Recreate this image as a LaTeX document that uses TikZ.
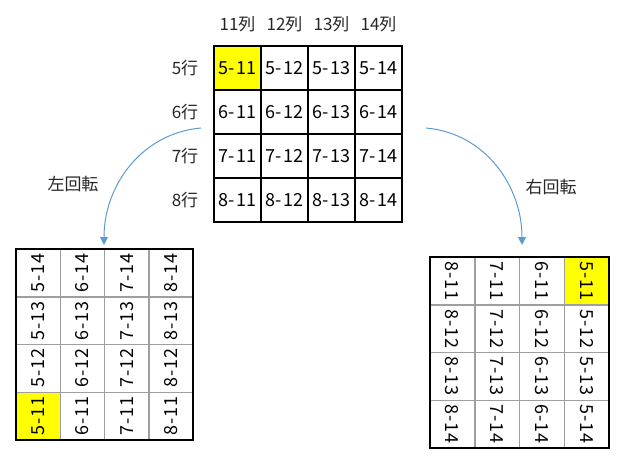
\documentclass[tikz,border=0pt]{standalone}
\usepackage{fontspec}
\setmainfont{Noto Sans CJK JP}
\usetikzlibrary{arrows.meta}
\definecolor{arrowblue}{RGB}{91,155,213}
\definecolor{cellyellow}{RGB}{255,255,0}
\begin{document}
\begin{tikzpicture}[x=1pt,y=-1pt,
  txt/.style={font=\fontsize{18}{18}\selectfont\addfontfeature{LetterSpace=5}, inner sep=0pt},
  topcell/.style={txt, draw=black, line width=1.2pt, minimum width=47pt, minimum height=44pt},
  leftcell/.style={txt, draw=gray!75, line width=1.5pt, rotate=90, minimum width=47.75pt, minimum height=44.25pt},
  rightcell/.style={txt, draw=gray!75, line width=1.5pt, rotate=-90, minimum width=47.75pt, minimum height=44.75pt},
  hl/.style={fill=cellyellow},
  rotarrow/.style={draw=arrowblue, line width=1pt, -{Triangle[width=8pt,length=8pt]}},
  lbl/.style={font=\fontsize{17}{17}\selectfont, inner sep=0pt, text=black!85}]
\useasboundingbox (0,0) rectangle (622,458);
% top grid
\foreach \r in {0,...,3}{
  \foreach \c in {0,...,3}{
    \pgfmathtruncatemacro{\rr}{5+\r}
    \pgfmathtruncatemacro{\cc}{11+\c}
    \ifnum\r=0 \ifnum\c=0
      \node[topcell, hl] (t\r\c) at ({237.5+47*\c},{68+44*\r}) {\rr-\cc};
    \else
      \node[topcell] (t\r\c) at ({237.5+47*\c},{68+44*\r}) {\rr-\cc};
    \fi\else
      \node[topcell] (t\r\c) at ({237.5+47*\c},{68+44*\r}) {\rr-\cc};
    \fi
  }
}
\foreach \c in {0,...,3}{
  \pgfmathtruncatemacro{\cc}{11+\c}
  \node[lbl] (h\c) at ({237.5+47*\c},24) {\cc 列};
}
\foreach \r in {0,...,3}{
  \pgfmathtruncatemacro{\rr}{5+\r}
  \node[lbl] (rl\r) at (185,{68+44*\r}) {\rr 行};
}
% left grid (rotated left)
\foreach \j in {0,...,3}{
  \foreach \i in {0,...,3}{
    \pgfmathtruncatemacro{\aa}{5+\i}
    \pgfmathtruncatemacro{\bb}{14-\j}
    \ifnum\j=3 \ifnum\i=0
      \node[leftcell, hl] (l\j\i) at ({16+44.25*\i+22.125},{249+47.75*\j+23.875}) {\aa-\bb};
    \else
      \node[leftcell] (l\j\i) at ({16+44.25*\i+22.125},{249+47.75*\j+23.875}) {\aa-\bb};
    \fi\else
      \node[leftcell] (l\j\i) at ({16+44.25*\i+22.125},{249+47.75*\j+23.875}) {\aa-\bb};
    \fi
  }
}
\draw[black, line width=1.2pt] (16,249) rectangle (193,440);
% right grid (rotated right)
\foreach \j in {0,...,3}{
  \foreach \i in {0,...,3}{
    \pgfmathtruncatemacro{\aa}{8-\i}
    \pgfmathtruncatemacro{\bb}{11+\j}
    \ifnum\j=0 \ifnum\i=3
      \node[rightcell, hl] (r\j\i) at ({430+44.75*\i+22.375},{257+47.75*\j+23.875}) {\aa-\bb};
    \else
      \node[rightcell] (r\j\i) at ({430+44.75*\i+22.375},{257+47.75*\j+23.875}) {\aa-\bb};
    \fi\else
      \node[rightcell] (r\j\i) at ({430+44.75*\i+22.375},{257+47.75*\j+23.875}) {\aa-\bb};
    \fi
  }
}
\draw[black, line width=1.2pt] (430,257) rectangle (609,448);
% arrows
\coordinate (ls) at (201,128);
\coordinate (le) at (104,245);
\coordinate (rs) at (426,128);
\coordinate (re) at (522,245);
\draw[rotarrow] (ls) to[out=185,in=90] (le);
\draw[rotarrow] (rs) to[out=-5,in=90] (re);
\node[lbl] (lrot) at (73,184) {左回転};
\node[lbl] (rrot) at (551,187) {右回転};
\end{tikzpicture}
\end{document}
